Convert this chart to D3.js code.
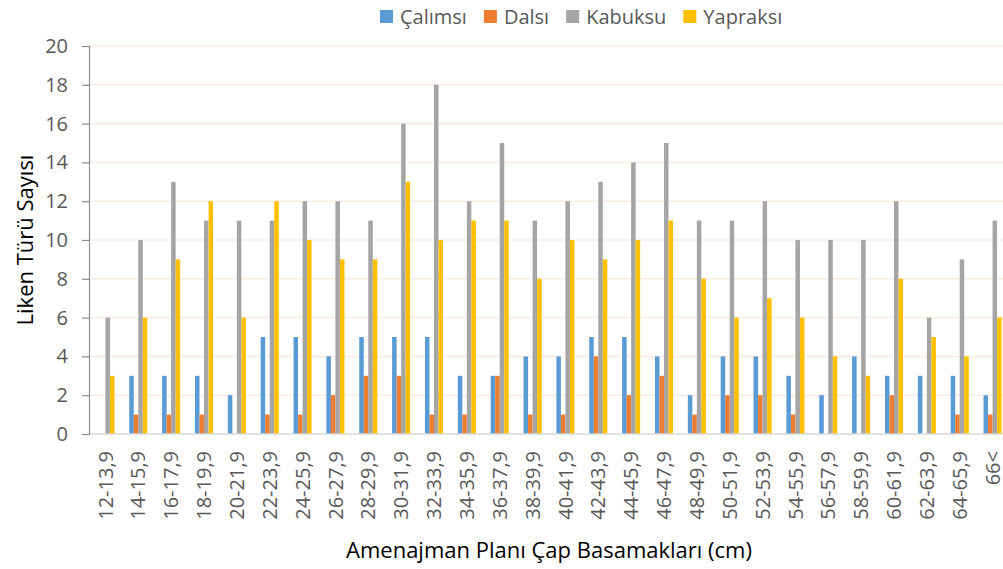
<!DOCTYPE html>
<html>
<head>
<meta charset="utf-8">
<script src="https://cdn.jsdelivr.net/npm/d3@7"></script>
<style>
  body { margin: 0; background: #fff; }
  svg { display: block; font-family: "Open Sans", sans-serif; }
</style>
</head>
<body>
<div id="chart"></div>
<script>
// kategoriler (çap basamakları)
var categories = ["12-13,9","14-15,9","16-17,9","18-19,9","20-21,9","22-23,9","24-25,9",
  "26-27,9","28-29,9","30-31,9","32-33,9","34-35,9","36-37,9","38-39,9","40-41,9",
  "42-43,9","44-45,9","46-47,9","48-49,9","50-51,9","52-53,9","54-55,9","56-57,9",
  "58-59,9","60-61,9","62-63,9","64-65,9","66<"];

// seriler
var seriesNames = ["Çalımsı", "Dalsı", "Kabuksu", "Yapraksı"];
var calimsi  = [0,3,3,3,2,5,5,4,5,5,5,3,3,4,4,5,5,4,2,4,4,3,2,4,3,3,3,2];
var dalsi    = [0,1,1,1,0,1,1,2,3,3,1,1,3,1,1,4,2,3,1,2,2,1,0,0,2,0,1,1];
var kabuksu  = [6,10,13,11,11,11,12,12,11,16,18,12,15,11,12,13,14,15,11,11,12,10,10,10,12,6,9,11];
var yapraksi = [3,6,9,12,6,12,10,9,9,13,10,11,11,8,10,9,10,11,8,6,7,6,4,3,8,5,4,6];
var yTicks = [0,2,4,6,8,10,12,14,16,18,20];

var colors = ["#5B9BD5", "#ED7D31", "#A5A5A5", "#FFC000"];

function makeChart(div_id, pWidth, pHeight) {
  var margin = {left: 89, top: 46, right: -6, bottom: 135};
  var width = pWidth - margin.left - margin.right;
  var height = pHeight - margin.top - margin.bottom;

  var svg = d3.select("#" + div_id).append("svg")
      .attr("width", pWidth)
      .attr("height", pHeight);

  var g = svg.append("g")
      .attr("transform", "translate(" + margin.left + "," + margin.top + ")");

  // eksenler
  var x0 = d3.scaleBand().domain(categories).range([0, width])
      .paddingInner(0.45).paddingOuter(0.225);
  var x1 = d3.scaleBand().domain(seriesNames).range([0, x0.bandwidth()]);
  var y = d3.scaleLinear().domain([0, 20]).range([height, 0]);

  // ızgara
  g.append("g").selectAll("line")
    .data(yTicks.slice(1))
    .enter().append("line")
      .attr("x1", 0).attr("x2", width)
      .attr("y1", function(d) { return y(d); })
      .attr("y2", function(d) { return y(d); })
      .attr("stroke", "#fcebe2")
      .attr("stroke-width", 1.5);

  // tablo
  var table = categories.map(function(c, i) {
    return {cat: c, values: [calimsi[i], dalsi[i], kabuksu[i], yapraksi[i]]};
  });

  var groups = g.append("g").selectAll("g")
    .data(table)
    .enter().append("g")
      .attr("transform", function(d) { return "translate(" + x0(d.cat) + ",0)"; });

  groups.selectAll("rect")
    .data(function(d) { return d.values.map(function(v, k) { return {key: seriesNames[k], value: v, k: k}; }); })
    .enter().append("rect")
      .attr("x", function(d) { return x1(d.key); })
      .attr("width", x1.bandwidth())
      .attr("y", function(d) { return y(d.value); })
      .attr("height", function(d) { return height - y(d.value); })
      .attr("fill", function(d) { return colors[d.k]; });

  // x ekseni çizgisi
  g.append("line")
    .attr("x1", 0).attr("x2", width)
    .attr("y1", height).attr("y2", height)
    .attr("stroke", "#d9d9d9").attr("stroke-width", 1.5);

  // x etiketleri
  g.append("g").selectAll("text")
    .data(categories)
    .enter().append("text")
      .attr("transform", function(d) {
        return "translate(" + (x0(d) + x0.bandwidth() / 2) + "," + (height + 17) + ") rotate(-90)";
      })
      .attr("text-anchor", "end")
      .attr("dy", "0.36em")
      .attr("font-size", 20)
      .attr("fill", "#595959")
      .text(function(d) { return d; });

  // y ekseni
  var yAxis = d3.axisLeft(y).tickValues(yTicks).tickSize(7).tickPadding(14);
  var yG = g.append("g").call(yAxis);
  yG.select(".domain").attr("stroke", "#8c8c8c").attr("stroke-width", 1.2);
  yG.selectAll(".tick line").attr("stroke", "#8c8c8c").attr("stroke-width", 1.2);
  yG.selectAll(".tick text")
    .attr("font-size", 20)
    .attr("font-family", "'Open Sans', sans-serif")
    .attr("fill", "#595959");

  // eksen başlıkları
  svg.append("text")
    .attr("transform", "translate(33," + (margin.top + height / 2) + ") rotate(-90)")
    .attr("text-anchor", "middle")
    .attr("font-size", 22)
    .attr("fill", "#000")
    .text("Liken Türü Sayısı");

  svg.append("text")
    .attr("x", margin.left + width / 2)
    .attr("y", 558)
    .attr("text-anchor", "middle")
    .attr("font-size", 22)
    .attr("fill", "#000")
    .text("Amenajman Planı Çap Basamakları (cm)");

  // gösterge
  var legend = svg.append("g").attr("transform", "translate(380,10)");
  var lx = 0;
  seriesNames.forEach(function(name, i) {
    var item = legend.append("g").attr("transform", "translate(" + lx + ",0)");
    item.append("rect")
      .attr("width", 13).attr("height", 13)
      .attr("fill", colors[i]);
    var t = item.append("text")
      .attr("x", 20).attr("y", 7)
      .attr("dy", "0.36em")
      .attr("font-size", 20)
      .attr("fill", "#595959")
      .text(name);
    lx += 20 + t.node().getComputedTextLength() + 17;
  });
}

makeChart("chart", 1003, 569);
</script>
</body>
</html>
